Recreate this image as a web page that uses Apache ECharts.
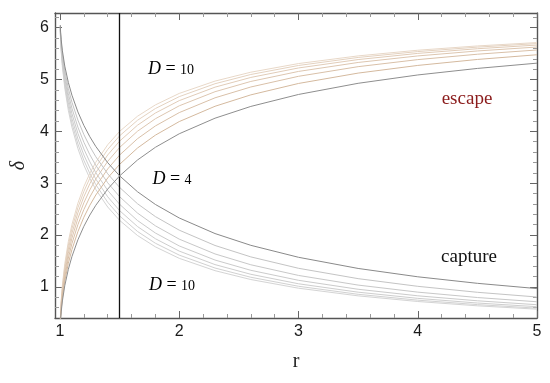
<!DOCTYPE html>
<html><head><meta charset="utf-8">
<script src="https://cdn.jsdelivr.net/npm/echarts@6/dist/echarts.min.js"></script>
<style>html,body{margin:0;padding:0;background:#fff}#c{width:550px;height:383px}</style>
</head><body><div id="c"></div>
<script>
// radial coordinate samples
const rVals = [1.002, 1.005, 1.01, 1.02, 1.04, 1.07, 1.1, 1.15, 1.2, 1.25, 1.3, 1.4, 1.5, 1.65, 1.8, 2, 2.3, 2.6, 3, 3.5, 4, 4.5, 5];
const dims = [4, 5, 6, 7, 8, 9, 10];
// capture angle delta(r) for D = 4..10
const capD4  = [6.051, 5.916, 5.766, 5.554, 5.259, 4.943, 4.698, 4.375, 4.115, 3.897, 3.709, 3.396, 3.142, 2.835, 2.590, 2.329, 2.029, 1.802, 1.571, 1.356, 1.195, 1.069, 0.967];
const capD5  = [6.030, 5.884, 5.720, 5.490, 5.170, 4.828, 4.564, 4.217, 3.940, 3.709, 3.511, 3.182, 2.919, 2.604, 2.356, 2.094, 1.799, 1.579, 1.359, 1.159, 1.011, 0.896, 0.805];
const capD6  = [6.012, 5.855, 5.679, 5.433, 5.091, 4.727, 4.447, 4.081, 3.791, 3.550, 3.345, 3.008, 2.740, 2.424, 2.178, 1.921, 1.636, 1.427, 1.221, 1.035, 0.899, 0.795, 0.713];
const capD7  = [5.995, 5.829, 5.642, 5.381, 5.020, 4.636, 4.343, 3.961, 3.661, 3.413, 3.203, 2.861, 2.593, 2.280, 2.039, 1.790, 1.518, 1.320, 1.127, 0.954, 0.828, 0.732, 0.656];
const capD8  = [5.980, 5.804, 5.607, 5.333, 4.954, 4.553, 4.248, 3.854, 3.545, 3.293, 3.080, 2.738, 2.471, 2.164, 1.929, 1.690, 1.430, 1.243, 1.060, 0.898, 0.779, 0.689, 0.618];
const capD9  = [5.965, 5.781, 5.575, 5.288, 4.893, 4.477, 4.161, 3.756, 3.442, 3.187, 2.973, 2.632, 2.369, 2.069, 1.842, 1.613, 1.364, 1.186, 1.012, 0.857, 0.744, 0.658, 0.590];
const capD10 = [5.951, 5.759, 5.545, 5.246, 4.836, 4.405, 4.081, 3.668, 3.350, 3.093, 2.879, 2.541, 2.283, 1.991, 1.772, 1.551, 1.313, 1.142, 0.975, 0.827, 0.718, 0.635, 0.570];
// escape angle delta(r) for D = 4..10
const escD4  = [0.232, 0.367, 0.517, 0.729, 1.024, 1.340, 1.585, 1.908, 2.168, 2.386, 2.574, 2.887, 3.141, 3.448, 3.693, 3.954, 4.254, 4.481, 4.712, 4.927, 5.088, 5.214, 5.316];
const escD5  = [0.253, 0.399, 0.563, 0.793, 1.113, 1.455, 1.719, 2.066, 2.343, 2.574, 2.772, 3.101, 3.364, 3.679, 3.927, 4.189, 4.484, 4.704, 4.924, 5.124, 5.272, 5.387, 5.478];
const escD6  = [0.271, 0.428, 0.604, 0.850, 1.192, 1.556, 1.836, 2.202, 2.492, 2.733, 2.938, 3.275, 3.543, 3.859, 4.105, 4.362, 4.647, 4.856, 5.062, 5.248, 5.384, 5.488, 5.570];
const escD7  = [0.288, 0.454, 0.641, 0.902, 1.263, 1.647, 1.940, 2.322, 2.622, 2.870, 3.080, 3.422, 3.690, 4.003, 4.244, 4.493, 4.765, 4.963, 5.156, 5.329, 5.455, 5.551, 5.627];
const escD8  = [0.303, 0.479, 0.676, 0.950, 1.329, 1.730, 2.035, 2.429, 2.738, 2.990, 3.203, 3.545, 3.812, 4.119, 4.354, 4.593, 4.853, 5.040, 5.223, 5.385, 5.504, 5.594, 5.665];
const escD9  = [0.318, 0.502, 0.708, 0.995, 1.390, 1.806, 2.122, 2.527, 2.841, 3.096, 3.310, 3.651, 3.914, 4.214, 4.441, 4.670, 4.919, 5.097, 5.271, 5.426, 5.539, 5.625, 5.693];
const escD10 = [0.332, 0.524, 0.738, 1.037, 1.447, 1.878, 2.202, 2.615, 2.933, 3.190, 3.404, 3.742, 4.000, 4.292, 4.511, 4.732, 4.970, 5.141, 5.308, 5.456, 5.565, 5.648, 5.713];
// photon sphere radius for D = 4
const photonR = 1.5;
// tick labels
const xMajor = [1, 2, 3, 4, 5];
const xMinor = [1.2, 1.4, 1.6, 1.8, 2.2, 2.4, 2.6, 2.8, 3.2, 3.4, 3.6, 3.8, 4.2, 4.4, 4.6, 4.8];
const yMajor = [1, 2, 3, 4, 5, 6];
const yMinor = [0.6, 0.8, 1.2, 1.4, 1.6, 1.8, 2.2, 2.4, 2.6, 2.8, 3.2, 3.4, 3.6, 3.8, 4.2, 4.4, 4.6, 4.8, 5.2, 5.4, 5.6, 5.8, 6.2];

const capList = [capD4, capD5, capD6, capD7, capD8, capD9, capD10];
const escList = [escD4, escD5, escD6, escD7, escD8, escD9, escD10];
const capColors = ['#8a8a8a', '#c4c4c4', '#c8c8c8', '#cbcbcb', '#cecece', '#d1d1d1', '#d4d4d4'];
const escColors = ['#8e8e8e', '#d4b99e', '#d9c0a8', '#ddc6b0', '#e1ccb8', '#e4d2c0', '#e8d8c8'];

const XMIN = 0.958, XMAX = 5, YMIN = 0.4, YMAX = 6.2832;
const frame = '#555555';
const sans = 'Liberation Sans, Arial, sans-serif';
const serif = 'Liberation Serif, Times New Roman, serif';

function pts(arr) { return rVals.map((r, i) => [r, arr[i]]); }

const series = [];
for (let k = dims.length - 1; k >= 0; k--) {
  series.push({ type: 'line', name: 'capture D=' + dims[k], data: pts(capList[k]), showSymbol: false, smooth: false,
    lineStyle: { color: capColors[k], width: 1 }, z: k === 0 ? 5 : 3, silent: true });
  series.push({ type: 'line', name: 'escape D=' + dims[k], data: pts(escList[k]), showSymbol: false, smooth: false,
    lineStyle: { color: escColors[k], width: 1 }, z: k === 0 ? 5 : 3, silent: true });
}
series[0].markLine = { silent: true, symbol: 'none', label: { show: false },
  lineStyle: { color: '#111', width: 1.3, type: 'solid' }, data: [{ xAxis: photonR }] };

function xAx(pos, major, showLine, showLabel) {
  return { type: 'value', min: XMIN, max: XMAX, position: pos, gridIndex: 0,
    axisLine: { show: showLine, onZero: false, lineStyle: { color: frame, width: 1.4 } },
    axisTick: { show: true, inside: true, length: major ? 7 : 4, customValues: major ? xMajor : xMinor,
      lineStyle: { color: major ? '#666' : '#999', width: 1 } },
    axisLabel: { show: showLabel, customValues: xMajor, color: '#1a1a1a', fontSize: 16, fontFamily: sans, margin: 6 },
    splitLine: { show: false } };
}
function yAx(pos, major, showLine, showLabel) {
  return { type: 'value', min: YMIN, max: YMAX, position: pos, gridIndex: 0,
    axisLine: { show: showLine, onZero: false, lineStyle: { color: frame, width: 1.4 } },
    axisTick: { show: true, inside: true, length: major ? 7 : 4, customValues: major ? yMajor : yMinor,
      lineStyle: { color: major ? '#666' : '#999', width: 1 } },
    axisLabel: { show: showLabel, customValues: yMajor, color: '#1a1a1a', fontSize: 16, fontFamily: sans, margin: 6 },
    splitLine: { show: false } };
}
const xAxes = [xAx('bottom', true, true, true), xAx('bottom', false, false, false), xAx('top', true, true, false), xAx('top', false, false, false)];
const yAxes = [yAx('left', true, true, true), yAx('left', false, false, false), yAx('right', true, true, false), yAx('right', false, false, false)];
xAxes[0].name = 'r'; xAxes[0].nameLocation = 'middle'; xAxes[0].nameGap = 34;
xAxes[0].nameTextStyle = { fontFamily: serif, fontSize: 20, color: '#222' };
yAxes[0].name = 'δ'; yAxes[0].nameLocation = 'middle'; yAxes[0].nameGap = 24; yAxes[0].nameRotate = 90;
yAxes[0].nameTextStyle = { fontFamily: serif, fontSize: 20, fontStyle: 'italic', color: '#222' };

const rich = { i: { fontFamily: serif, fontStyle: 'italic', fontSize: 18, color: '#111', lineHeight: 20, verticalAlign: 'middle' },
  n: { fontFamily: serif, fontSize: 18, color: '#111', lineHeight: 20, verticalAlign: 'middle' },
  d: { fontFamily: serif, fontSize: 14, color: '#111', lineHeight: 20, verticalAlign: 'middle', padding: [2, 0, 0, 0] } };

const chart = echarts.init(document.getElementById('c'), null, { renderer: 'canvas' });
chart.setOption({
  animation: false,
  backgroundColor: '#fff',
  grid: { left: 55, right: 13, top: 13, bottom: 65 },
  xAxis: xAxes, yAxis: yAxes,
  series: series,
  graphic: [
    { type: 'text', x: 171, y: 69, silent: true, style: { text: '{i|D}{n| = }{d|10}', rich: rich, align: 'center', verticalAlign: 'middle' } },
    { type: 'text', x: 172, y: 179, silent: true, style: { text: '{i|D}{n| = }{d|4}', rich: rich, align: 'center', verticalAlign: 'middle' } },
    { type: 'text', x: 172, y: 285, silent: true, style: { text: '{i|D}{n| = }{d|10}', rich: rich, align: 'center', verticalAlign: 'middle' } },
    { type: 'text', x: 467, y: 99, silent: true, style: { text: 'escape', fontFamily: serif, fontSize: 19, fill: '#8b1c1c', align: 'center', verticalAlign: 'middle' } },
    { type: 'text', x: 469, y: 257, silent: true, style: { text: 'capture', fontFamily: serif, fontSize: 19, fill: '#111', align: 'center', verticalAlign: 'middle' } }
  ]
});
</script></body></html>
